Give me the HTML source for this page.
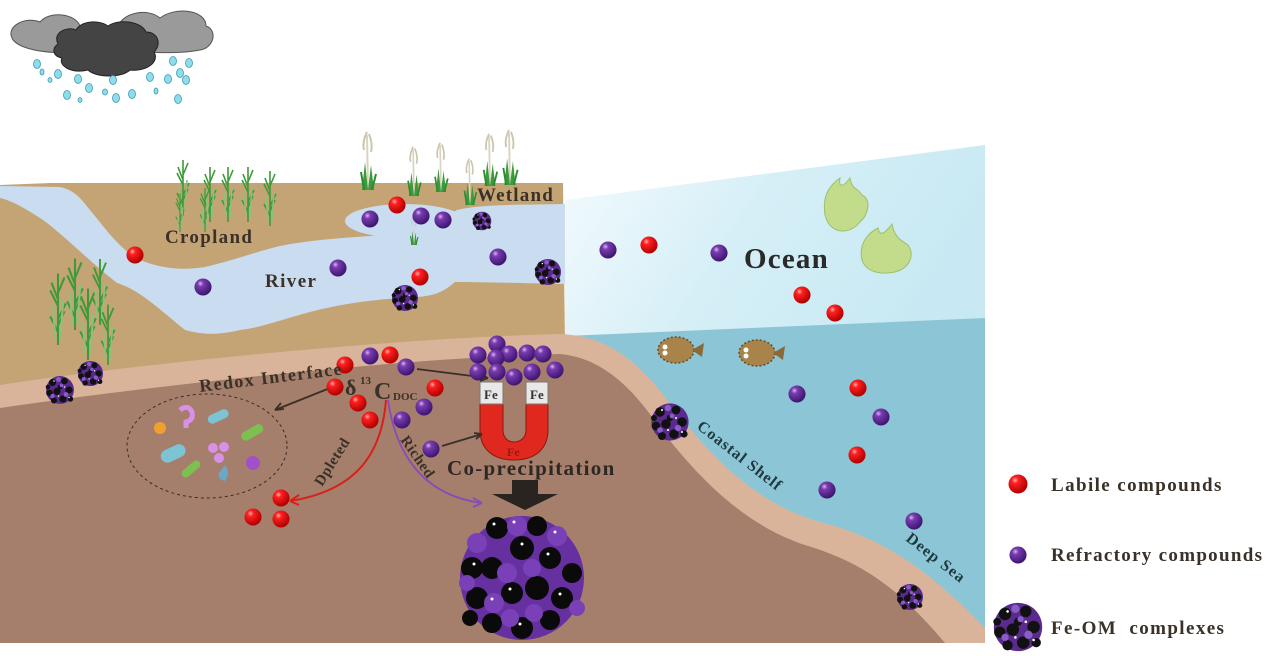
<!DOCTYPE html>
<html><head><meta charset="utf-8">
<style>
html,body{margin:0;padding:0;background:#fff;}
svg{display:block;}
text{font-family:"Liberation Serif",serif;font-weight:bold;fill:#3a3128;}
</style></head><body>
<svg width="1268" height="656" viewBox="0 0 1268 656" xmlns="http://www.w3.org/2000/svg">
<defs>
<radialGradient id="gr" cx="0.35" cy="0.3" r="0.7"><stop offset="0" stop-color="#ffb0b0"/><stop offset="0.25" stop-color="#ff2020"/><stop offset="1" stop-color="#b00000"/></radialGradient>
<radialGradient id="gp" cx="0.35" cy="0.3" r="0.7"><stop offset="0" stop-color="#d8b8f0"/><stop offset="0.25" stop-color="#7a3cb0"/><stop offset="1" stop-color="#3d1670"/></radialGradient>
<linearGradient id="oc" x1="0" y1="0" x2="1" y2="0.3"><stop offset="0" stop-color="#f4fbfd"/><stop offset="0.5" stop-color="#d6eff7"/><stop offset="1" stop-color="#c8e9f3"/></linearGradient>
<symbol id="R" viewBox="-10 -10 20 20"><circle r="9.5" fill="url(#gr)"/></symbol>
<symbol id="P" viewBox="-10 -10 20 20"><circle r="9.5" fill="url(#gp)"/></symbol>
<symbol id="C" viewBox="-10 -10 20 20">
<circle r="9.3" fill="#5b2a8e"/>
<g fill="#111">
<circle cx="-5" cy="-5" r="2.4"/><circle cx="3" cy="-6" r="2.2"/><circle cx="6" cy="0" r="2.4"/><circle cx="-7" cy="2" r="2.2"/><circle cx="-2" cy="1" r="2.4"/><circle cx="2" cy="6" r="2.4"/><circle cx="-4" cy="7" r="2"/><circle cx="7" cy="6" r="1.8"/><circle cx="0" cy="-2" r="1.6"/><circle cx="-8" cy="-2" r="1.5"/>
</g>
<g fill="#8a5cc8"><circle cx="-1" cy="-7" r="1.6"/><circle cx="4" cy="3" r="1.6"/><circle cx="-5" cy="4" r="1.4"/><circle cx="1" cy="-3" r="1.2"/></g>
<g fill="#fff"><circle cx="-4" cy="-6" r="0.5"/><circle cx="3" cy="-2" r="0.5"/><circle cx="-1" cy="4" r="0.5"/><circle cx="6" cy="5" r="0.5"/></g>
</symbol>
<g id="plant" stroke="#3f9a3a" stroke-width="1.6" fill="none">
<path d="M0,0 L0,-55 M0,-10 L-6,-22 M0,-20 L6,-32 M0,-30 L-6,-42 M0,-40 L5,-52 M0,-15 L5,-26 M0,-35 L-5,-48"/>
<path d="M-2,-5 L-4,-30 M2,-5 L4,-35" stroke="#8ec07a"/>
</g>
<g id="reed">
<path d="M0,0 L-1,-55" stroke="#d8d4c0" stroke-width="2" fill="none"/>
<path d="M-1,-58 q-5,10 -3,18 M1,-56 q4,10 2,18" stroke="#cbc6ae" stroke-width="2" fill="none"/>
<path d="M-6,0 L-3,-28 L0,0 L3,-25 L6,0 Z" fill="#3a9a3c"/>
<path d="M-4,0 L-7,-18 M4,0 L8,-16" stroke="#2f8a30" stroke-width="2"/>
</g>
</defs>

<!-- clouds -->
<g fill="#9a9a9a" stroke="#555" stroke-width="1">
<path d="M12,38 C6,26 26,16 40,22 C50,10 76,14 80,26 C92,24 104,36 96,46 C90,56 20,56 12,38 Z"/>
<path d="M118,26 C124,12 148,8 160,18 C176,6 206,10 206,26 C218,30 214,48 200,50 C180,54 130,54 120,46 C110,42 110,32 118,26 Z"/>
</g>
<path d="M58,44 C52,32 68,26 76,30 C82,20 100,20 108,26 C120,18 142,22 146,32 C158,32 162,44 154,52 C160,62 146,72 130,70 C122,78 96,78 88,70 C72,74 58,66 62,58 C52,56 52,48 58,44 Z" fill="#444" stroke="#222" stroke-width="1"/>
<g fill="#8fdcec" stroke="#3a9ab0" stroke-width="0.8">
<ellipse cx="37" cy="64" rx="3.5" ry="4.5"/><ellipse cx="42" cy="72" rx="2" ry="3"/><ellipse cx="58" cy="74" rx="3.5" ry="4.5"/><ellipse cx="50" cy="80" rx="2" ry="2.5"/><ellipse cx="78" cy="79" rx="3.5" ry="4.5"/><ellipse cx="89" cy="88" rx="3.5" ry="4.5"/><ellipse cx="67" cy="95" rx="3.5" ry="4.5"/><ellipse cx="80" cy="100" rx="2" ry="2.5"/><ellipse cx="105" cy="92" rx="2.5" ry="3"/><ellipse cx="113" cy="80" rx="3.5" ry="4.5"/><ellipse cx="116" cy="98" rx="3.5" ry="4.5"/><ellipse cx="132" cy="94" rx="3.5" ry="4.5"/><ellipse cx="150" cy="77" rx="3.5" ry="4.5"/><ellipse cx="156" cy="91" rx="2" ry="3"/><ellipse cx="168" cy="79" rx="3.5" ry="4.5"/><ellipse cx="173" cy="61" rx="3.5" ry="4.5"/><ellipse cx="180" cy="73" rx="3.5" ry="4.5"/><ellipse cx="186" cy="80" rx="3.5" ry="4.5"/><ellipse cx="189" cy="63" rx="3.5" ry="4.5"/><ellipse cx="178" cy="99" rx="3.5" ry="4.5"/>
</g>

<!-- ocean -->
<path d="M565,200 L985,145 L985,322 L565,338 Z" fill="url(#oc)"/>
<path d="M565,336 L985,318 L985,643 L565,643 Z" fill="#8cc6d6"/>

<!-- upper land -->
<path d="M0,185 L50,183 L563,183 L565,345 L0,395 Z" fill="#c4a474"/>
<!-- river -->
<path d="M0,186 L60,187 C75,190 82,200 90,210 C105,228 120,250 140,260 C165,270 185,270 205,267 C235,260 255,252 280,246 C310,240 340,238 370,236 C400,234 430,226 457,210 C480,204 520,205 565,204 L565,284 C520,283 480,282 455,282 C440,295 430,297 400,298 C370,300 340,304 310,312 C280,320 260,328 240,330 C215,336 200,334 185,330 C160,310 140,290 117,283 C90,262 65,236 43,220 C25,208 10,200 0,198 Z" fill="#c9dcf0"/>
<ellipse cx="405" cy="221" rx="60" ry="17" fill="#c9dcf0"/>

<!-- redox pink band -->
<path d="M0,385 C150,362 400,338 560,334 C615,336 645,370 675,410 C715,462 760,505 820,522 C880,537 925,566 985,628 L985,643 L0,643 Z" fill="#dab49a"/>
<!-- brown sediment -->
<path d="M0,408 C150,386 400,358 560,354 C605,358 635,392 660,428 C700,480 745,525 805,545 C865,563 900,590 945,643 L0,643 Z" fill="#a57f6b"/>

<!-- plants cropland -->
<g transform="translate(183,215)"><use href="#plant"/></g>
<g transform="translate(210,222)"><use href="#plant"/></g>
<g transform="translate(228,222)"><use href="#plant"/></g>
<g transform="translate(248,222)"><use href="#plant"/></g>
<g transform="translate(270,226)"><use href="#plant"/></g>
<g transform="translate(205,232) scale(0.8)"><use href="#plant"/></g>
<g transform="translate(180,232) scale(0.7)"><use href="#plant"/></g>
<!-- left plants -->
<g transform="translate(58,345) scale(1.3)"><use href="#plant"/></g>
<g transform="translate(75,330) scale(1.3)"><use href="#plant"/></g>
<g transform="translate(88,360) scale(1.3)"><use href="#plant"/></g>
<g transform="translate(100,325) scale(1.2)"><use href="#plant"/></g>
<g transform="translate(108,365) scale(1.1)"><use href="#plant"/></g>
<!-- reeds -->
<g transform="translate(368,190)"><use href="#reed"/></g>
<g transform="translate(414,196) scale(0.85)"><use href="#reed"/></g>
<g transform="translate(441,192) scale(0.85)"><use href="#reed"/></g>
<g transform="translate(470,205) scale(0.8)"><use href="#reed"/></g>
<g transform="translate(490,186) scale(0.9)"><use href="#reed"/></g>
<g transform="translate(510,185) scale(0.95)"><use href="#reed"/></g>
<g transform="translate(414,245) scale(0.5)"><use href="#reed"/></g>

<!-- seaweed -->
<g fill="#c2dc8c" stroke="#9cc06a" stroke-width="1">
<path d="M825,215 C822,195 830,185 840,178 C838,190 845,185 850,178 C852,190 858,188 862,195 C872,200 868,215 860,222 C850,235 830,235 825,215 Z"/>
<path d="M862,260 C858,242 870,232 878,228 C880,238 886,232 892,224 C894,236 900,240 908,245 C915,255 910,268 895,272 C880,275 866,272 862,260 Z"/>
</g>

<!-- fish -->
<g>
<ellipse cx="676" cy="350" rx="18" ry="13" fill="#a8834a" stroke="#6a4a20" stroke-width="1.5" stroke-dasharray="2 2"/>
<path d="M692,350 L704,343 L702,357 Z" fill="#8a6a38"/>
<circle cx="665" cy="347" r="2.5" fill="#fff"/><circle cx="665" cy="353" r="2.5" fill="#fff"/>
<ellipse cx="757" cy="353" rx="18" ry="13" fill="#a8834a" stroke="#6a4a20" stroke-width="1.5" stroke-dasharray="2 2"/>
<path d="M773,353 L785,346 L783,360 Z" fill="#8a6a38"/>
<circle cx="746" cy="350" r="2.5" fill="#fff"/><circle cx="746" cy="356" r="2.5" fill="#fff"/>
</g>

<!-- microbes ellipse -->
<ellipse cx="207" cy="446" rx="80" ry="52" fill="none" stroke="#3a2e28" stroke-width="1" stroke-dasharray="3 3"/>
<g>
<circle cx="160" cy="428" r="6" fill="#f0a030"/>
<path d="M180,410 q8,-6 12,2 q2,8 -6,10 l0,6" stroke="#d890e8" stroke-width="5" fill="none"/>
<rect x="207" y="412" width="22" height="9" rx="4.5" fill="#7cc4d4" transform="rotate(-25 218 416)"/>
<rect x="240" y="428" width="24" height="9" rx="4.5" fill="#7cc050" transform="rotate(-30 252 432)"/>
<rect x="160" y="447" width="26" height="13" rx="6.5" fill="#7cc4d4" transform="rotate(-25 173 453)"/>
<circle cx="213" cy="448" r="5" fill="#d890e8"/><circle cx="224" cy="447" r="5" fill="#d890e8"/><circle cx="219" cy="458" r="5" fill="#d890e8"/>
<circle cx="253" cy="463" r="7" fill="#a050c8"/>
<rect x="180" y="465" width="22" height="8" rx="4" fill="#7cc050" transform="rotate(-40 191 469)"/>
<path d="M225,465 q6,8 0,16 q-8,-2 -6,-8 Z" fill="#6aa8c8"/>
</g>

<!-- magnet -->
<path d="M480,404 L480,430 C480,448 492,460 514,460 C536,460 548,448 548,430 L548,404 L526,404 L526,430 C526,438 520,442 514,442 C508,442 503,438 503,430 L503,404 Z" fill="#e0281e" stroke="#8a1810" stroke-width="1"/>
<rect x="480" y="382" width="23" height="22" fill="#e8e8e8" stroke="#777"/>
<rect x="526" y="382" width="22" height="22" fill="#e8e8e8" stroke="#777"/>
<text x="484" y="399" font-size="13" style="fill:#333">Fe</text>
<text x="530" y="399" font-size="13" style="fill:#333">Fe</text>
<text x="507" y="456" font-size="12" style="fill:#a01810">Fe</text>

<!-- arrows -->
<g stroke="#3a2e28" stroke-width="1.8" fill="none">
<path d="M330,388 L275,410"/><path d="M275,410 l9,-1 M275,410 l6,-7"/>
<path d="M417,369 L488,378"/><path d="M488,378 l-8,-4 M488,378 l-8,3"/>
<path d="M442,446 L482,434"/><path d="M482,434 l-8,-1 M482,434 l-6,5"/>
</g>
<path d="M386,400 C382,450 360,490 290,501" stroke="#d8201a" stroke-width="2" fill="none"/>
<path d="M290,501 l9,-6 M290,501 l9,4" stroke="#d8201a" stroke-width="2" fill="none"/>
<path d="M388,400 C395,450 420,495 482,503" stroke="#8a4ab8" stroke-width="1.8" fill="none"/>
<path d="M482,503 l-9,-5 M482,503 l-9,4" stroke="#8a4ab8" stroke-width="1.8" fill="none"/>
<path d="M512,480 L538,480 L538,494 L558,494 L525,510 L492,494 L512,494 Z" fill="#2a2420"/>

<!-- big complex -->
<g transform="translate(522,578)">
<circle r="62" fill="#6630a0"/>
<g fill="#0a0a0a">
<circle cx="-25" cy="-50" r="11"/><circle cx="15" cy="-52" r="10"/><circle cx="0" cy="-30" r="12"/><circle cx="-50" cy="-10" r="11"/><circle cx="-30" cy="-10" r="11"/><circle cx="28" cy="-20" r="11"/><circle cx="50" cy="-5" r="10"/><circle cx="-45" cy="20" r="11"/><circle cx="-10" cy="15" r="11"/><circle cx="15" cy="10" r="12"/><circle cx="40" cy="20" r="11"/><circle cx="-30" cy="45" r="10"/><circle cx="0" cy="50" r="11"/><circle cx="28" cy="42" r="10"/><circle cx="-52" cy="40" r="8"/>
</g>
<g fill="#7a40b8">
<circle cx="-5" cy="-52" r="10"/><circle cx="35" cy="-42" r="10"/><circle cx="-45" cy="-35" r="10"/><circle cx="-15" cy="-5" r="10"/><circle cx="10" cy="-10" r="9"/><circle cx="-28" cy="25" r="10"/><circle cx="55" cy="30" r="8"/><circle cx="12" cy="35" r="9"/><circle cx="-55" cy="5" r="8"/><circle cx="-12" cy="40" r="9"/>
</g>
<g fill="#fff"><circle cx="-28" cy="-54" r="1.5"/><circle cx="0" cy="-34" r="1.5"/><circle cx="-48" cy="-14" r="1.5"/><circle cx="26" cy="-24" r="1.5"/><circle cx="-12" cy="11" r="1.5"/><circle cx="38" cy="16" r="1.5"/><circle cx="-2" cy="46" r="1.5"/><circle cx="-8" cy="-56" r="1.5"/><circle cx="33" cy="-46" r="1.5"/><circle cx="-30" cy="21" r="1.5"/></g>
</g>

<!-- red balls -->
<g>
<use href="#R" x="388" y="196" width="18" height="18"/>
<use href="#R" x="126" y="246" width="18" height="18"/>
<use href="#R" x="411" y="268" width="18" height="18"/>
<use href="#R" x="640" y="236" width="18" height="18"/>
<use href="#R" x="793" y="286" width="18" height="18"/>
<use href="#R" x="826" y="304" width="18" height="18"/>
<use href="#R" x="336" y="356" width="18" height="18"/>
<use href="#R" x="381" y="346" width="18" height="18"/>
<use href="#R" x="326" y="378" width="18" height="18"/>
<use href="#R" x="426" y="379" width="18" height="18"/>
<use href="#R" x="349" y="394" width="18" height="18"/>
<use href="#R" x="361" y="411" width="18" height="18"/>
<use href="#R" x="849" y="379" width="18" height="18"/>
<use href="#R" x="848" y="446" width="18" height="18"/>
<use href="#R" x="272" y="489" width="18" height="18"/>
<use href="#R" x="244" y="508" width="18" height="18"/>
<use href="#R" x="272" y="510" width="18" height="18"/>
<use href="#R" x="1008" y="474" width="20" height="20"/>
</g>
<!-- purple balls -->
<g>
<use href="#P" x="361" y="210" width="18" height="18"/>
<use href="#P" x="412" y="207" width="18" height="18"/>
<use href="#P" x="434" y="211" width="18" height="18"/>
<use href="#P" x="194" y="278" width="18" height="18"/>
<use href="#P" x="329" y="259" width="18" height="18"/>
<use href="#P" x="489" y="248" width="18" height="18"/>
<use href="#P" x="599" y="241" width="18" height="18"/>
<use href="#P" x="710" y="244" width="18" height="18"/>
<use href="#P" x="361" y="347" width="18" height="18"/>
<use href="#P" x="397" y="358" width="18" height="18"/>
<use href="#P" x="415" y="398" width="18" height="18"/>
<use href="#P" x="393" y="411" width="18" height="18"/>
<use href="#P" x="422" y="440" width="18" height="18"/>
<use href="#P" x="788" y="385" width="18" height="18"/>
<use href="#P" x="872" y="408" width="18" height="18"/>
<use href="#P" x="818" y="481" width="18" height="18"/>
<use href="#P" x="905" y="512" width="18" height="18"/>
<use href="#P" x="488" y="335" width="18" height="18"/>
<use href="#P" x="469" y="346" width="18" height="18"/>
<use href="#P" x="500" y="345" width="18" height="18"/>
<use href="#P" x="518" y="344" width="18" height="18"/>
<use href="#P" x="534" y="345" width="18" height="18"/>
<use href="#P" x="487" y="349" width="18" height="18"/>
<use href="#P" x="469" y="363" width="18" height="18"/>
<use href="#P" x="488" y="363" width="18" height="18"/>
<use href="#P" x="505" y="368" width="18" height="18"/>
<use href="#P" x="523" y="363" width="18" height="18"/>
<use href="#P" x="546" y="361" width="18" height="18"/>
<use href="#P" x="1009" y="546" width="18" height="18"/>
</g>
<!-- complexes -->
<g>
<use href="#C" x="472" y="211" width="20" height="20"/>
<use href="#C" x="534" y="258" width="28" height="28"/>
<use href="#C" x="391" y="284" width="28" height="28"/>
<use href="#C" x="45" y="375" width="30" height="30"/>
<use href="#C" x="77" y="360" width="27" height="27"/>
<use href="#C" x="650" y="402" width="40" height="40"/>
<use href="#C" x="896" y="583" width="28" height="28"/>
<use href="#C" x="992" y="601" width="52" height="52"/>
</g>

<!-- labels -->
<text x="165" y="243" font-size="19" letter-spacing="1.3">Cropland</text>
<text x="477" y="201" font-size="19" letter-spacing="1.2">Wetland</text>
<text x="265" y="287" font-size="19" letter-spacing="1.4">River</text>
<text x="744" y="268" font-size="29" letter-spacing="1.2" style="fill:#2a2a2a">Ocean</text>
<text x="200" y="392" font-size="18" letter-spacing="1.4" transform="rotate(-7 200 392)">Redox Interface</text>
<text x="345" y="395" font-size="22">δ</text>
<text x="360" y="384" font-size="11">13</text>
<text x="374" y="399" font-size="24">C</text>
<text x="393" y="400" font-size="11">DOC</text>
<text x="447" y="475" font-size="21" letter-spacing="1.3" style="fill:#2e2824">Co-precipitation</text>
<text x="322" y="487" font-size="15" letter-spacing="0.5" transform="rotate(-58 322 487)">Dpleted</text>
<text x="400" y="440" font-size="15" letter-spacing="0.5" transform="rotate(55 400 440)">Riched</text>
<text x="696" y="428" font-size="16" letter-spacing="1" style="fill:#1e3a40" transform="rotate(38 696 428)">Coastal Shelf</text>
<text x="905" y="540" font-size="16" letter-spacing="1" style="fill:#1e3a40" transform="rotate(38 905 540)">Deep Sea</text>
<text x="1051" y="491" font-size="19" letter-spacing="1.4">Labile compounds</text>
<text x="1051" y="561" font-size="19" letter-spacing="1.3">Refractory compounds</text>
<text x="1051" y="634" font-size="19" letter-spacing="1.4">Fe-OM&#160; complexes</text>
</svg>
</body></html>
